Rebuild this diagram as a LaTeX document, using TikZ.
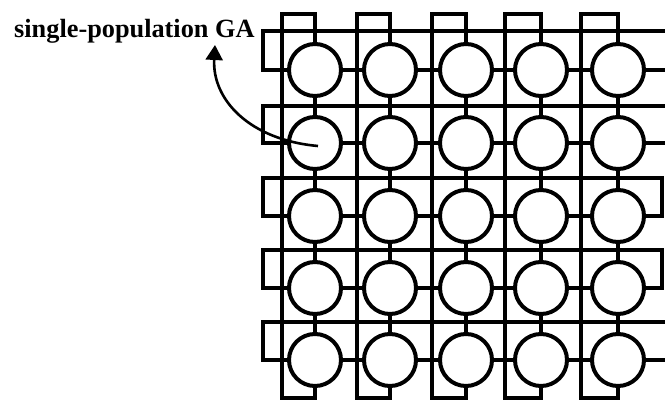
\documentclass[tikz,border=0pt]{standalone}
\usepackage{fontspec}
\setmainfont{Liberation Serif}
\usetikzlibrary{arrows.meta}
\begin{document}
\begin{tikzpicture}[x=1pt,y=-1pt,
  wire/.style={line width=4pt, line join=miter},
  cell/.style={circle, draw, line width=4pt, minimum size=52pt, inner sep=0pt},
  pointer/.style={line width=2.6pt, -{Triangle[length=15pt,width=17pt]}},
  lbl/.style={anchor=base west, inner sep=0pt, font=\fontsize{26.3}{30}\selectfont\bfseries}]
\useasboundingbox (0,0) rectangle (665,403);
% cells
\foreach \cx [count=\i] in {315,390,466,541,618} {
  \foreach \cy [count=\j] in {70,143,216,288,360} {
    \node[cell] (c-\j-\i) at (\cx,\cy) {};
  }
}
% columns (vertical wrap-around)
\foreach \wx [count=\i] in {282,357,432,505,581} {
  \coordinate (tw\i) at (\wx,14);
  \coordinate (bw\i) at (\wx,398);
  \draw[wire] (c-1-\i.north) -- (c-1-\i.north |- tw\i) -- (tw\i) -- (bw\i) -- (c-5-\i.south |- bw\i) -- (c-5-\i.south);
  \foreach \j [evaluate=\j as \k using int(\j+1)] in {1,...,4} {
    \draw[wire] (c-\j-\i.south) -- (c-\k-\i.north);
  }
}
% rows (horizontal wrap-around)
\foreach \hy [count=\j] in {31,106,178,250,322} {
  \coordinate (lw\j) at (263,\hy);
  \foreach \i [evaluate=\i as \k using int(\i+1)] in {1,...,4} {
    \draw[wire] (c-\j-\i.east) -- (c-\j-\k.west);
  }
}
% open rows (cut by the right edge)
\foreach \j in {1,2,5} {
  \coordinate (rw\j) at (668,0);
  \draw[wire] (c-\j-1.west) -- (c-\j-1.west -| lw\j) -- (lw\j) -- (lw\j -| rw\j);
  \draw[wire] (c-\j-5.east) -- (c-\j-5.east -| rw\j);
}
% closed rows
\foreach \j in {3,4} {
  \coordinate (rw\j) at (662,0);
  \draw[wire] (c-\j-1.west) -- (c-\j-1.west -| lw\j) -- (lw\j) -- (lw\j -| rw\j) -- (c-\j-5.east -| rw\j) -- (c-\j-5.east);
}
% label and pointer
\node[lbl] (label) at (14,38) {single-population GA};
\coordinate (src) at (318,146);
\coordinate (tip) at (215,45);
\draw[pointer] (src) .. controls (250,140) and (212,100) .. (tip);
\end{tikzpicture}
\end{document}
